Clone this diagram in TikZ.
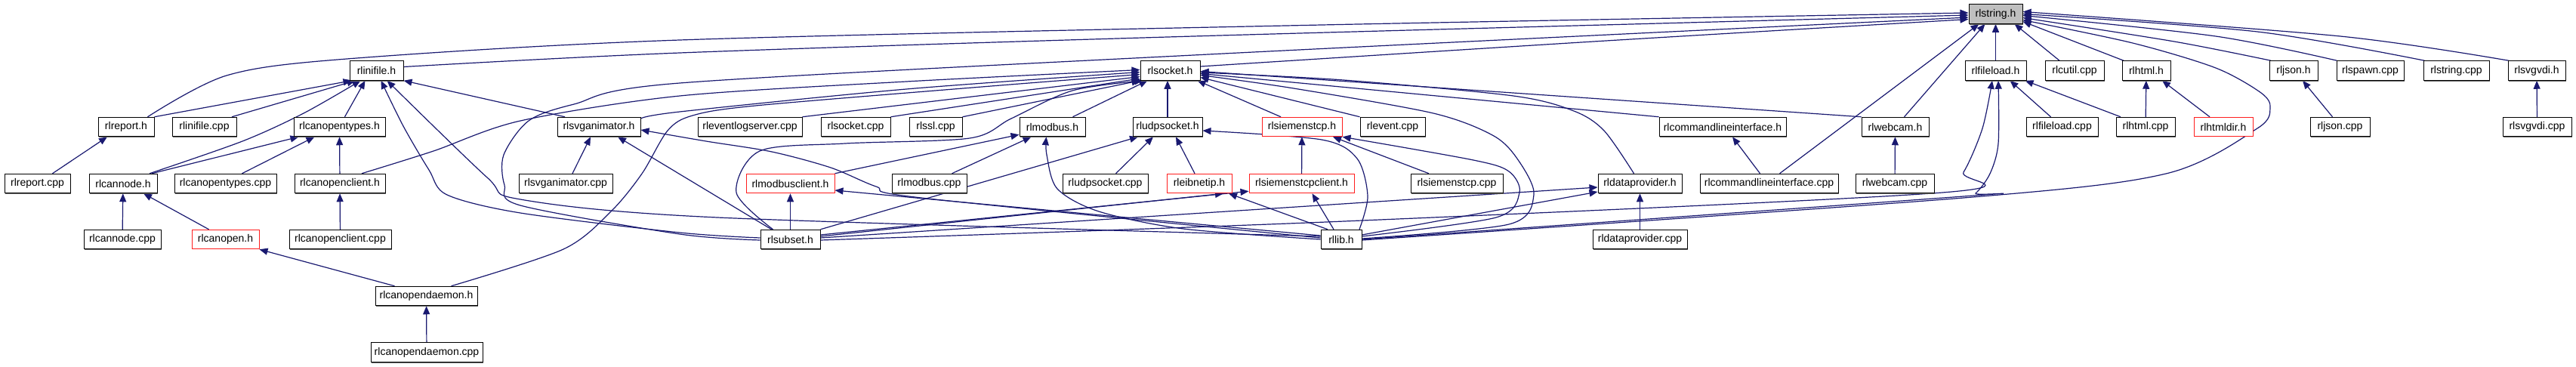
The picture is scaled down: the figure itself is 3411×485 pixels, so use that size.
\documentclass[tikz,border=0pt]{standalone}
\usepackage{fontspec}
\setmainfont{Liberation Sans}
\usetikzlibrary{arrows.meta,shadows,backgrounds}
\definecolor{edgeblue}{RGB}{25,25,112}
\definecolor{nodegray}{RGB}{191,191,191}
\definecolor{boxred}{RGB}{255,30,30}
\begin{document}
\begin{tikzpicture}[x=1pt,y=-1pt,
  base/.style={line width=1pt,fill=white,minimum height=25.5pt,inner sep=0pt,font=\fontsize{14}{16}\selectfont},
  box/.style={base,draw=black,drop shadow={shadow xshift=1.4pt,shadow yshift=-1.4pt,fill=black!60,opacity=1}},
  redbox/.style={base,draw=boxred},
  edge/.style={draw=edgeblue,line width=1.2pt,-{Triangle[length=11pt,width=9pt]}},
  sm/.style={smooth,tension=0.5}]
\useasboundingbox (0,0) rectangle (3411,485);
% row 1
\node[box,minimum width=71pt,fill=nodegray] (S) at (2642.5,18.5) {rlstring.h};
% row 2
\node[box,minimum width=71pt] (ini) at (498.5,93.5) {rlinifile.h};
\node[box,minimum width=79pt] (sock) at (1549.5,93.5) {rlsocket.h};
\node[box,minimum width=81pt] (fl) at (2642.5,93.5) {rlfileload.h};
\node[box,minimum width=78pt] (cutil) at (2747,93.5) {rlcutil.cpp};
\node[box,minimum width=64pt] (htmlh) at (2842,93.5) {rlhtml.h};
\node[box,minimum width=64pt] (jsonh) at (3037,93.5) {rljson.h};
\node[box,minimum width=89pt] (spawn) at (3138.5,93.5) {rlspawn.cpp};
\node[box,minimum width=87pt] (strcpp) at (3252.5,93.5) {rlstring.cpp};
\node[box,minimum width=76pt] (svgh) at (3359,93.5) {rlsvgvdi.h};
% row 3
\node[box,minimum width=74pt] (report) at (167,168) {rlreport.h};
\node[box,minimum width=85pt] (inicpp) at (270.5,168) {rlinifile.cpp};
\node[box,minimum width=121pt] (cotypes) at (449.5,168) {rlcanopentypes.h};
\node[box,minimum width=110pt] (svga) at (793,168) {rlsvganimator.h};
\node[box,minimum width=138pt] (evls) at (993,168) {rleventlogserver.cpp};
\node[box,minimum width=92pt] (sockcpp) at (1133,168) {rlsocket.cpp};
\node[box,minimum width=70pt] (ssl) at (1239,168) {rlssl.cpp};
\node[box,minimum width=87pt] (modbus) at (1393.5,168) {rlmodbus.h};
\node[box,minimum width=92pt] (udp) at (1546,168) {rludpsocket.h};
\node[redbox,minimum width=106pt] (siem) at (1724,168) {rlsiemenstcp.h};
\node[box,minimum width=86pt] (event) at (1844,168) {rlevent.cpp};
\node[box,minimum width=168pt] (cmdh) at (2281,168) {rlcommandlineinterface.h};
\node[box,minimum width=89pt] (webh) at (2509.5,168) {rlwebcam.h};
\node[box,minimum width=95pt] (flcpp) at (2730.5,168) {rlfileload.cpp};
\node[box,minimum width=78pt] (htmlcpp) at (2841,168) {rlhtml.cpp};
\node[redbox,minimum width=78pt] (htmldir) at (2944,168) {rlhtmldir.h};
\node[box,minimum width=79pt] (jsoncpp) at (3098.5,168) {rljson.cpp};
\node[box,minimum width=91pt] (svgcpp) at (3359.5,168) {rlsvgvdi.cpp};
% row 4
\node[box,minimum width=87pt] (reportcpp) at (49.5,243) {rlreport.cpp};
\node[box,minimum width=90pt] (cannode) at (163,243) {rlcannode.h};
\node[box,minimum width=135pt] (cotypescpp) at (298.5,243) {rlcanopentypes.cpp};
\node[box,minimum width=120pt] (coclient) at (450,243) {rlcanopenclient.h};
\node[box,minimum width=124pt] (svgacpp) at (749,243) {rlsvganimator.cpp};
\node[redbox,minimum width=117pt] (mbclient) at (1046.5,243) {rlmodbusclient.h};
\node[box,minimum width=99pt] (mbcpp) at (1230.5,243) {rlmodbus.cpp};
\node[box,minimum width=113pt] (udpcpp) at (1463.5,243) {rludpsocket.cpp};
\node[redbox,minimum width=86pt] (eib) at (1588,243) {rleibnetip.h};
\node[redbox,minimum width=139pt] (siemcl) at (1723.5,243) {rlsiemenstcpclient.h};
\node[box,minimum width=122pt] (siemcpp) at (1929,243) {rlsiemenstcp.cpp};
\node[box,minimum width=111pt] (dph) at (2171.5,243) {rldataprovider.h};
\node[box,minimum width=183pt] (cmdcpp) at (2342.5,243) {rlcommandlineinterface.cpp};
\node[box,minimum width=104pt] (webcpp) at (2509,243) {rlwebcam.cpp};
% row 5
\node[box,minimum width=102pt] (cannodecpp) at (162,317) {rlcannode.cpp};
\node[redbox,minimum width=89pt] (canopen) at (298.5,317) {rlcanopen.h};
\node[box,minimum width=135pt] (coclientcpp) at (450.5,317) {rlcanopenclient.cpp};
\node[box,minimum width=79pt] (subset) at (1046.5,317) {rlsubset.h};
\node[box,minimum width=54pt] (lib) at (1776,317) {rllib.h};
\node[box,minimum width=125pt] (dpcpp) at (2171.5,317) {rldataprovider.cpp};
% row 6, 7
\node[box,minimum width=135pt] (daemon) at (564.5,392) {rlcanopendaemon.h};
\node[box,minimum width=148pt] (daemoncpp) at (565,466.5) {rlcanopendaemon.cpp};

\begin{pgfonlayer}{background}
% ---- into rlstring.h
\draw[edge] plot[sm] coordinates {([xshift=-9pt]report.north east) (300,100) (459,78) (900,53) (1750,33) ([yshift=1.5pt]S.west)};
\draw[edge] plot[sm] coordinates {([yshift=5pt]ini.east) (900,70) (1580,48) ([yshift=-1.5pt]S.west)};
\draw[edge] plot[sm] coordinates {([yshift=-1pt]subset.west) (900,310) (689,272) (668,245) (667,205) (700,160) (760,138) (900,110) (1600,72) ([yshift=-4.5pt]S.west)};
\draw[edge] plot[sm] coordinates {([yshift=5.5pt]sock.east) (2110,55) ([yshift=-7pt]S.west)};
\draw[edge] ([xshift=14pt]cmdcpp.north) -- ([xshift=-22pt]S.south);
\draw[edge] ([xshift=12pt]webh.north) -- ([xshift=-14pt]S.south);
\draw[edge] (fl) -- (S);
\draw[edge] ([xshift=-20pt]cutil.north) -- ([xshift=25pt]S.south);
\draw[edge] ([xshift=-30pt]htmlh.north) -- ([yshift=-10pt]S.east);
\draw[edge] plot[sm] coordinates {([xshift=-30pt]jsonh.north) (2879,55) ([yshift=-5pt]S.east)};
\draw[edge] plot[sm] coordinates {([xshift=-44pt]spawn.north) (2934,48) ([yshift=-2pt]S.east)};
\draw[edge] plot[sm] coordinates {([xshift=-42pt]strcpp.north) (2989,42) (S.east)};
\draw[edge] plot[sm] coordinates {([xshift=-37pt]svgh.north) (3099,48) ([yshift=3pt]S.east)};
\draw[edge] plot[sm] coordinates {([yshift=-1pt]lib.east) (2600,262) (2868,230) (2989,170) (3006,143) (2994,123) (2934,90) (2824,57) ([yshift=-8pt]S.east)};
% ---- into rlinifile.h
\draw[edge] (report.north east) -- ([xshift=-33pt]ini.south);
\draw[edge] ([xshift=36.5pt]inicpp.north) -- ([xshift=-28pt]ini.south);
\draw[edge] plot[sm] coordinates {([xshift=35pt]cannode.north) (321,187) (402,150) ([xshift=-21pt]ini.south)};
\draw[edge] ([xshift=7pt]cotypes.north) -- ([xshift=-15pt]ini.south);
\draw[edge] ([xshift=-45pt]svga.north) -- (ini.south east);
\draw[edge] plot[sm] coordinates {([yshift=2pt]subset.west) (900,308) (689,282) (592,258) (568,225) (534,167) ([xshift=6pt]ini.south)};
\draw[edge] plot[sm] coordinates {([yshift=4pt]lib.west) (950,288) (689,264) (645,235) ([xshift=14pt]ini.south)};
% ---- canopen family
\draw[edge] ([xshift=20pt]reportcpp.north) -- ([xshift=-25pt]report.south);
\draw[edge] ([xshift=38pt]cannode.north) -- ([xshift=-54pt]cotypes.south);
\draw[edge] ([xshift=22pt]cotypescpp.north) -- ([xshift=-33pt]cotypes.south);
\draw[edge] (coclient) -- (cotypes);
\draw[edge] (cannodecpp) -- (cannode);
\draw[edge] ([xshift=-22pt]canopen.north) -- ([xshift=27pt]cannode.south);
\draw[edge] (coclientcpp) -- (coclient);
\draw[edge] ([xshift=-42pt]daemon.north) -- (canopen.south east);
\draw[edge] (daemoncpp) -- (daemon);
% ---- rlsvganimator.h
\draw[edge] ([xshift=9pt]svgacpp.north) -- ([xshift=-11pt]svga.south);
\draw[edge] ([xshift=-25pt]subset.north) -- ([xshift=25pt]svga.south);
\draw[edge] plot[sm] coordinates {([yshift=2pt]lib.west) (1220,262) (1160,247) (1100,222) (1022,201) (935,187) ([yshift=-4pt]svga.east)};
% ---- into rlsocket.h
\draw[edge] plot[sm] coordinates {([xshift=33pt]daemon.north) (746,330) (809,280) (850,230) (884,173) (917,153) (1000,140) (1300,115) ([yshift=-5pt]sock.west)};
\draw[edge] plot[sm] coordinates {([xshift=29pt]coclient.north) (574,200) (689,160) (900,127) (1200,108) ([yshift=1pt]sock.west)};
\draw[edge] plot[sm] coordinates {([yshift=11pt]svga.east) (900,148) (1200,118) ([yshift=-2pt]sock.west)};
\draw[edge] (evls.north east) -- ([yshift=-8pt]sock.west);
\draw[edge] (sockcpp.north east) -- ([yshift=-10.5pt]sock.west);
\draw[edge] (ssl.north east) -- (sock.south west);
\draw[edge] plot[sm] coordinates {([xshift=-23pt]subset.north) (975,255) (1006,200) (1119,190) (1284,183) (1339,157) (1420,120) ([xshift=4pt]sock.south west)};
\draw[edge] ([xshift=27pt]modbus.north) -- ([xshift=-30pt]sock.south);
\draw[edge] (udp) -- ([xshift=-3.5pt]sock.south);
\draw[edge] ([xshift=-28pt]siem.north) -- ([xshift=-4pt]sock.south east);
\draw[edge] (event.north west) -- ([yshift=-9pt]sock.east);
\draw[edge] (cmdh.north west) -- ([yshift=-4pt]sock.east);
\draw[edge] (webh.north west) -- ([yshift=-1pt]sock.east);
\draw[edge] plot[sm] coordinates {([xshift=-8pt]dph.north) (2124,173) (2084,147) (2004,127) (1779,106) ([yshift=-2.5pt]sock.east)};
\draw[edge] plot[sm] coordinates {([yshift=1pt]lib.east) (1998,297) (2031,258) (2011,213) (1978,180) (1898,150) (1713,117) ([yshift=-6pt]sock.east)};
% ---- rlmodbus.h / client
\draw[edge] (mbclient.north east) -- ([yshift=3pt]modbus.south west);
\draw[edge] ([xshift=30pt]mbcpp.north) -- ([xshift=-28pt]modbus.south);
\draw[edge] plot[sm] coordinates {(lib.west) (1567,303) (1455,280) (1400,250) (1386,205) ([xshift=-8pt]modbus.south)};
\draw[edge] (subset) -- (mbclient);
\draw[edge] ([yshift=5pt]lib.west) -- ([yshift=-9pt]mbclient.east);
% ---- rludpsocket.h
\draw[edge] ([xshift=14pt]udpcpp.north) -- ([xshift=-19pt]udp.south);
\draw[edge] ([xshift=-6pt]eib.north) -- ([xshift=11pt]udp.south);
\draw[edge] (subset.north east) -- ([xshift=-39pt]udp.south);
\draw[edge] plot[sm] coordinates {([xshift=24pt]lib.north) (1811,260) (1797,210) (1750,185) ([yshift=-5pt]udp.east)};
% ---- rlsiemenstcp.h
\draw[edge] (siemcl) -- (siem);
\draw[edge] ([xshift=-37pt]siemcpp.north) -- ([xshift=41pt]siem.south);
\draw[edge] plot[sm] coordinates {([yshift=4pt]lib.east) (1981,288) (2012,255) (1998,227) (1951,212) (siem.south east)};
% ---- rleibnetip.h / rlsiemenstcpclient.h
\draw[edge] ([yshift=4pt]subset.east) -- ([xshift=32pt]eib.south);
\draw[edge] ([xshift=-18pt]lib.north) -- ([xshift=39pt]eib.south);
\draw[edge] ([yshift=6pt]subset.east) -- ([yshift=3pt]siemcl.south west);
\draw[edge] ([xshift=-10pt]lib.north) -- ([xshift=14pt]siemcl.south);
% ---- rldataprovider.h
\draw[edge] ([yshift=2pt]subset.east) -- ([yshift=-5pt]dph.west);
\draw[edge] ([yshift=6pt]lib.east) -- ([yshift=-11pt]dph.west);
\draw[edge] (dpcpp) -- (dph);
% ---- rlfileload.h
\draw[edge] ([xshift=-15pt]flcpp.north) -- ([xshift=19pt]fl.south);
\draw[edge] ([xshift=-33pt]htmlcpp.north) -- ([xshift=-2pt]fl.south east);
\draw[edge] plot[sm] coordinates {(lib.east) (2600,260) (2616,256) (2635,230) (2646,190) ([xshift=3.5pt]fl.south)};
\draw[edge] plot[sm] coordinates {([yshift=-1pt]subset.east) (1780,293) (2572,255) (2600,228) (2625,170) ([xshift=-4.5pt]fl.south)};
% ---- others
\draw[edge] ([xshift=-12pt]cmdcpp.north) -- ([xshift=13pt]cmdh.south);
\draw[edge] (webcpp) -- (webh);
\draw[edge] (htmlcpp) -- (htmlh);
\draw[edge] ([xshift=-18pt]htmldir.north) -- ([xshift=21pt]htmlh.south);
\draw[edge] ([xshift=-10pt]jsoncpp.north) -- ([xshift=12pt]jsonh.south);
\draw[edge] (svgcpp) -- (svgh);
\end{pgfonlayer}
\end{tikzpicture}
\end{document}
